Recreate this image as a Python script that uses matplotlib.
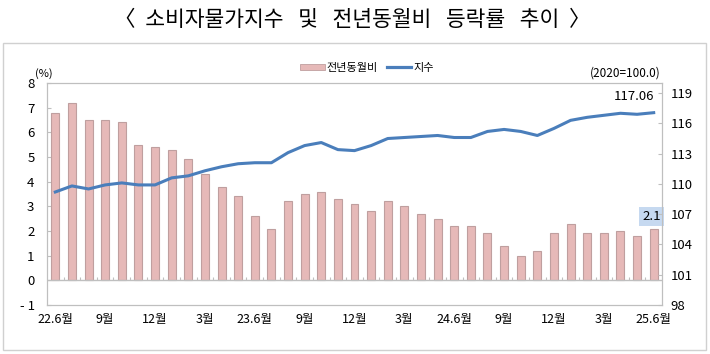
import numpy as np
import matplotlib
matplotlib.use('Agg')
import matplotlib.pyplot as plt
from matplotlib.patches import Patch, Rectangle
from matplotlib.lines import Line2D

plt.rcParams['font.family'] = ['Liberation Sans Narrow', 'Noto Sans CJK KR', 'DejaVu Sans']

# 22.6 ~ 25.6, monthly
yoy = [6.8, 7.2, 6.5, 6.5, 6.4, 5.5, 5.4, 5.3, 4.9, 4.3, 3.8, 3.4, 2.6,
       2.1, 3.2, 3.5, 3.6, 3.3, 3.1, 2.8, 3.2, 3.0, 2.7, 2.5, 2.2, 2.2,
       1.9, 1.4, 1.0, 1.2, 1.9, 2.3, 1.9, 1.9, 2.0, 1.8, 2.1]
idx = [109.2, 109.8, 109.5, 109.9, 110.1, 109.9, 109.9, 110.6, 110.8, 111.3,
       111.7, 112.0, 112.1, 112.1, 113.1, 113.8, 114.1, 113.4, 113.3, 113.8,
       114.5, 114.6, 114.7, 114.8, 114.6, 114.6, 115.2, 115.4, 115.2, 114.8,
       115.5, 116.3, 116.6, 116.8, 117.0, 116.9, 117.06]
xlabels = {0: '22.6월', 3: '9월', 6: '12월', 9: '3월', 12: '23.6월', 15: '9월',
           18: '12월', 21: '3월', 24: '24.6월', 27: '9월', 30: '12월',
           33: '3월', 36: '25.6월'}

bar_col = '#e6b9b8'
bar_edge = '#bf9f9f'
line_col = '#4a7ebb'
frame_col = '#bfbfbf'

fig = plt.figure(figsize=(7.1, 3.54), dpi=100)
fig.patches.append(Rectangle((0.0042, 0.0113), 0.990, 0.867, transform=fig.transFigure,
                             fill=False, edgecolor='#d0d0d0', lw=1.0))
fig.text(0.496, 0.943, '〈  소비자물가지수   및   전년동월비   등락률   추이  〉',
         ha='center', va='center', fontsize=15.5, family=['Noto Sans CJK KR'])

ax = fig.add_axes([0.0662, 0.1384, 0.8662, 0.6271])
x = np.arange(len(yoy))
ax.bar(x, yoy, width=0.48, color=bar_col, edgecolor=bar_edge, lw=0.8, zorder=2)
ax.axhline(0, color=frame_col, lw=1.0, zorder=3)
ax.vlines(x[:-1] + 0.5, 0, 0.12, color=frame_col, lw=0.8, zorder=3)
ax.set_xlim(-0.5, len(yoy) - 0.5)
ax.set_ylim(-1, 8)
ax.set_yticks(range(-1, 9))
ax.set_yticklabels(['- 1'] + [str(v) for v in range(0, 9)])
ax.set_xticks(list(xlabels.keys()))
ax.set_xticklabels(list(xlabels.values()))
ax.tick_params(axis='x', length=0, pad=6, labelsize=9)
ax.tick_params(axis='y', direction='in', length=3, color=frame_col, pad=9, labelsize=9.5)
for s in ax.spines.values():
    s.set_color(frame_col)

ax2 = ax.twinx()
ax2.plot(x, idx, color=line_col, lw=2.2, zorder=4)
ax2.set_ylim(98, 120)
ax2.set_yticks(range(98, 120, 3))
ax2.tick_params(axis='y', direction='in', length=3, color=frame_col, pad=6, labelsize=9.5)
for s in ax2.spines.values():
    s.set_color(frame_col)

ax2.annotate(f'{idx[-1]:.2f}', xy=(x[-1], idx[-1]), xytext=(-20, 16),
             textcoords='offset pixels', ha='center', va='center', fontsize=9.5)
ax.annotate(f'{yoy[-1]}', xy=(x[-1], yoy[-1]), xytext=(-2, 12),
            textcoords='offset pixels', ha='center', va='center', fontsize=9.5,
            bbox=dict(boxstyle='square,pad=0.25', facecolor='#c6d9f0', edgecolor='none'))

fig.text(0.062, 0.793, '(%)', ha='center', va='center', fontsize=8)
fig.text(0.881, 0.793, '(2020=100.0)', ha='center', va='center', fontsize=8.5)

handles = [Patch(facecolor=bar_col, edgecolor=bar_edge, lw=0.6),
           Line2D([], [], color=line_col, lw=2.3)]
fig.legend(handles, ['전년동월비', '지수'], loc='center', bbox_to_anchor=(0.517, 0.808),
           ncol=2, frameon=False, handlelength=2.2, handleheight=0.45,
           handletextpad=0.2, columnspacing=0.8, prop={'family': ['Noto Sans CJK KR'], 'size': 8})

fig.savefig('out.png', dpi=100)
